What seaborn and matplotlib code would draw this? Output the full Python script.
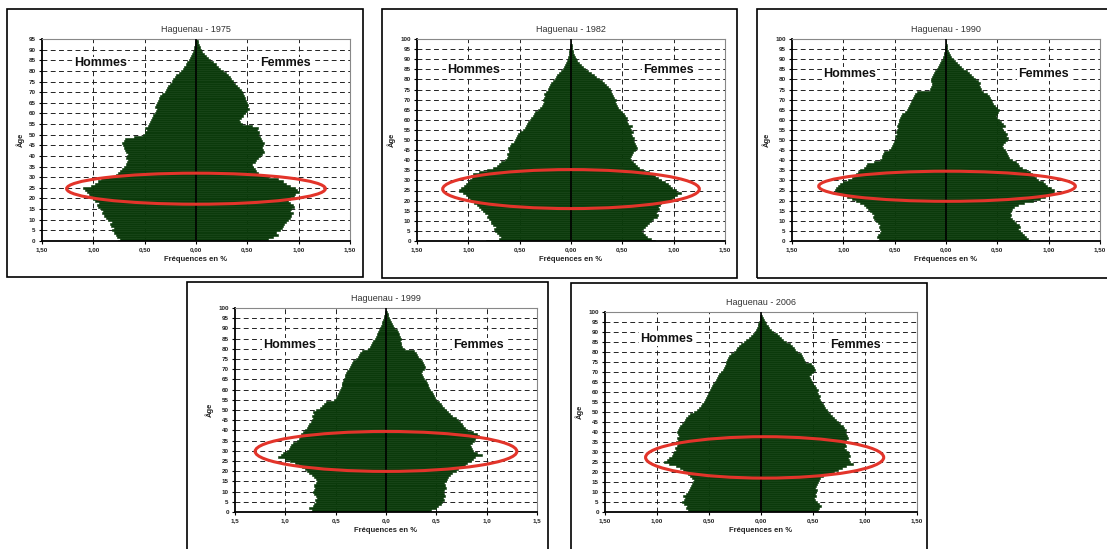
import numpy as np
import pandas as pd
import matplotlib
matplotlib.use("Agg")
import matplotlib.pyplot as plt
import seaborn as sns
from matplotlib.patches import Ellipse, Rectangle

# ---------------- data (percent of population by single year of age) ----------------
titles = ["Haguenau - 1975", "Haguenau - 1982", "Haguenau - 1990", "Haguenau - 1999", "Haguenau - 2006"]
label_h = "Hommes"
label_f = "Femmes"
xlabel = "Fréquences en %"
ylabel = "Âge"

hommes_1975 = [0.76, 0.74, 0.77, 0.78, 0.80, 0.82, 0.80, 0.83, 0.84, 0.82,
               0.86, 0.88, 0.90, 0.92, 0.91, 0.93, 0.95, 0.96, 0.94, 0.98,
               1.00, 1.03, 1.04, 1.06, 1.08, 1.10, 1.02, 0.98, 0.95, 0.93,
               0.85, 0.78, 0.76, 0.74, 0.72, 0.70, 0.68, 0.67, 0.66, 0.68,
               0.67, 0.66, 0.68, 0.69, 0.70, 0.71, 0.72, 0.70, 0.69, 0.60,
               0.52, 0.50, 0.48, 0.50, 0.47, 0.46, 0.45, 0.44, 0.43, 0.42,
               0.40, 0.39, 0.38, 0.40, 0.39, 0.38, 0.37, 0.36, 0.35, 0.33,
               0.30, 0.29, 0.28, 0.27, 0.25, 0.23, 0.22, 0.20, 0.19, 0.17,
               0.15, 0.13, 0.12, 0.10, 0.09, 0.07, 0.06, 0.05, 0.04, 0.03,
               0.02, 0.02, 0.01, 0.01, 0.01, 0.00]
femmes_1975 = [0.62, 0.70, 0.75, 0.80, 0.78, 0.82, 0.84, 0.85, 0.86, 0.88,
               0.90, 0.92, 0.93, 0.94, 0.92, 0.93, 0.95, 0.94, 0.92, 0.90,
               0.92, 0.95, 0.96, 1.00, 0.98, 0.96, 0.92, 0.88, 0.85, 0.80,
               0.70, 0.64, 0.60, 0.58, 0.57, 0.56, 0.55, 0.57, 0.58, 0.60,
               0.62, 0.64, 0.66, 0.65, 0.64, 0.65, 0.66, 0.64, 0.63, 0.62,
               0.60, 0.61, 0.59, 0.60, 0.55, 0.45, 0.43, 0.42, 0.44, 0.46,
               0.48, 0.50, 0.52, 0.50, 0.51, 0.50, 0.49, 0.48, 0.47, 0.46,
               0.45, 0.44, 0.42, 0.40, 0.38, 0.36, 0.34, 0.33, 0.31, 0.29,
               0.26, 0.23, 0.21, 0.19, 0.17, 0.14, 0.12, 0.10, 0.08, 0.06,
               0.05, 0.04, 0.03, 0.02, 0.02, 0.01]

hommes_1982 = [0.83, 0.70, 0.68, 0.70, 0.72, 0.74, 0.75, 0.73, 0.76, 0.78,
               0.78, 0.80, 0.82, 0.81, 0.84, 0.86, 0.88, 0.90, 0.92, 0.94,
               0.96, 0.98, 1.00, 1.02, 1.05, 1.09, 1.07, 1.04, 1.02, 1.00,
               0.98, 0.96, 0.97, 0.95, 0.90, 0.82, 0.76, 0.72, 0.70, 0.68,
               0.64, 0.62, 0.61, 0.62, 0.60, 0.60, 0.61, 0.59, 0.58, 0.56,
               0.55, 0.54, 0.53, 0.52, 0.50, 0.47, 0.45, 0.44, 0.43, 0.42,
               0.40, 0.39, 0.37, 0.36, 0.35, 0.32, 0.30, 0.28, 0.27, 0.26,
               0.27, 0.26, 0.25, 0.26, 0.24, 0.22, 0.21, 0.20, 0.19, 0.18,
               0.16, 0.15, 0.14, 0.12, 0.10, 0.08, 0.07, 0.06, 0.05, 0.04,
               0.03, 0.03, 0.02, 0.02, 0.02, 0.01, 0.01, 0.01, 0.00, 0.00]
femmes_1982 = [0.82, 0.78, 0.74, 0.72, 0.70, 0.68, 0.70, 0.72, 0.74, 0.76,
               0.78, 0.80, 0.84, 0.85, 0.83, 0.84, 0.86, 0.85, 0.87, 0.88,
               0.95, 0.98, 1.00, 1.03, 1.07, 1.02, 0.98, 0.96, 0.94, 0.92,
               0.88, 0.85, 0.82, 0.80, 0.76, 0.70, 0.66, 0.64, 0.62, 0.60,
               0.58, 0.57, 0.58, 0.59, 0.60, 0.62, 0.64, 0.63, 0.62, 0.61,
               0.60, 0.61, 0.59, 0.58, 0.60, 0.58, 0.57, 0.59, 0.56, 0.55,
               0.54, 0.55, 0.53, 0.52, 0.50, 0.48, 0.46, 0.45, 0.44, 0.43,
               0.44, 0.42, 0.41, 0.40, 0.39, 0.38, 0.36, 0.34, 0.32, 0.30,
               0.27, 0.24, 0.22, 0.19, 0.17, 0.14, 0.12, 0.10, 0.08, 0.06,
               0.05, 0.04, 0.03, 0.02, 0.02, 0.01, 0.01, 0.01, 0.00, 0.00]

hommes_1990 = [0.66, 0.65, 0.67, 0.66, 0.64, 0.63, 0.64, 0.65, 0.64, 0.66,
               0.68, 0.70, 0.71, 0.70, 0.72, 0.74, 0.76, 0.78, 0.80, 0.84,
               0.88, 0.92, 0.96, 1.00, 1.06, 1.08, 1.07, 1.05, 1.03, 1.00,
               0.95, 0.92, 0.90, 0.88, 0.86, 0.84, 0.80, 0.78, 0.77, 0.70,
               0.64, 0.62, 0.62, 0.61, 0.60, 0.56, 0.54, 0.53, 0.52, 0.51,
               0.50, 0.49, 0.50, 0.48, 0.49, 0.48, 0.47, 0.48, 0.47, 0.46,
               0.46, 0.45, 0.44, 0.43, 0.40, 0.38, 0.37, 0.36, 0.35, 0.34,
               0.33, 0.32, 0.31, 0.30, 0.28, 0.16, 0.15, 0.14, 0.14, 0.15,
               0.15, 0.14, 0.13, 0.12, 0.11, 0.09, 0.08, 0.07, 0.06, 0.05,
               0.03, 0.03, 0.02, 0.02, 0.01, 0.01, 0.01, 0.00, 0.00, 0.00]
femmes_1990 = [0.82, 0.80, 0.78, 0.76, 0.74, 0.72, 0.70, 0.72, 0.71, 0.68,
               0.66, 0.64, 0.62, 0.63, 0.62, 0.63, 0.64, 0.66, 0.70, 0.76,
               0.85, 0.92, 0.96, 1.00, 1.04, 1.05, 1.02, 0.98, 0.96, 0.94,
               0.90, 0.88, 0.86, 0.84, 0.82, 0.78, 0.74, 0.71, 0.70, 0.68,
               0.64, 0.61, 0.60, 0.59, 0.58, 0.57, 0.56, 0.55, 0.56, 0.57,
               0.59, 0.60, 0.58, 0.59, 0.57, 0.56, 0.55, 0.57, 0.56, 0.54,
               0.52, 0.50, 0.49, 0.50, 0.51, 0.52, 0.50, 0.48, 0.46, 0.45,
               0.44, 0.43, 0.42, 0.40, 0.36, 0.34, 0.33, 0.32, 0.33, 0.31,
               0.28, 0.26, 0.24, 0.22, 0.20, 0.17, 0.15, 0.13, 0.11, 0.09,
               0.07, 0.05, 0.04, 0.03, 0.02, 0.01, 0.01, 0.01, 0.00, 0.00]

hommes_1999 = [0.75, 0.74, 0.76, 0.73, 0.72, 0.70, 0.71, 0.69, 0.70, 0.72,
               0.73, 0.72, 0.71, 0.72, 0.70, 0.69, 0.70, 0.72, 0.74, 0.76,
               0.78, 0.80, 0.83, 0.86, 0.90, 0.95, 1.00, 1.07, 1.04, 1.02,
               0.98, 0.96, 0.95, 0.94, 0.92, 0.88, 0.86, 0.85, 0.84, 0.82,
               0.80, 0.78, 0.77, 0.76, 0.75, 0.74, 0.73, 0.74, 0.72, 0.73,
               0.70, 0.66, 0.64, 0.62, 0.60, 0.52, 0.50, 0.49, 0.48, 0.47,
               0.46, 0.45, 0.44, 0.44, 0.43, 0.42, 0.41, 0.41, 0.40, 0.39,
               0.37, 0.36, 0.35, 0.34, 0.33, 0.30, 0.28, 0.27, 0.26, 0.24,
               0.18, 0.16, 0.15, 0.14, 0.13, 0.11, 0.10, 0.09, 0.08, 0.07,
               0.06, 0.05, 0.04, 0.04, 0.03, 0.02, 0.02, 0.01, 0.01, 0.00]
femmes_1999 = [0.42, 0.45, 0.50, 0.52, 0.55, 0.56, 0.58, 0.57, 0.59, 0.58,
               0.57, 0.58, 0.60, 0.59, 0.58, 0.60, 0.61, 0.62, 0.64, 0.66,
               0.70, 0.72, 0.75, 0.78, 0.80, 0.84, 0.86, 0.88, 0.95, 0.90,
               0.86, 0.85, 0.84, 0.83, 0.85, 0.87, 0.88, 0.92, 0.90, 0.86,
               0.80, 0.78, 0.76, 0.75, 0.74, 0.72, 0.70, 0.66, 0.64, 0.62,
               0.60, 0.58, 0.56, 0.55, 0.53, 0.50, 0.49, 0.48, 0.47, 0.46,
               0.44, 0.43, 0.42, 0.41, 0.40, 0.38, 0.37, 0.36, 0.35, 0.36,
               0.38, 0.39, 0.38, 0.37, 0.36, 0.34, 0.32, 0.31, 0.30, 0.28,
               0.18, 0.16, 0.15, 0.15, 0.14, 0.15, 0.14, 0.13, 0.12, 0.11,
               0.08, 0.07, 0.06, 0.05, 0.04, 0.03, 0.02, 0.02, 0.01, 0.00]

hommes_2006 = [0.68, 0.70, 0.72, 0.71, 0.74, 0.76, 0.74, 0.73, 0.75, 0.72,
               0.70, 0.69, 0.68, 0.67, 0.66, 0.65, 0.64, 0.66, 0.68, 0.70,
               0.72, 0.75, 0.78, 0.82, 0.88, 0.93, 0.90, 0.88, 0.86, 0.85,
               0.84, 0.82, 0.83, 0.81, 0.80, 0.82, 0.80, 0.81, 0.79, 0.80,
               0.81, 0.80, 0.79, 0.78, 0.76, 0.74, 0.73, 0.72, 0.70, 0.68,
               0.64, 0.62, 0.60, 0.58, 0.57, 0.55, 0.54, 0.53, 0.52, 0.51,
               0.50, 0.49, 0.48, 0.47, 0.46, 0.44, 0.43, 0.42, 0.41, 0.40,
               0.38, 0.37, 0.36, 0.35, 0.34, 0.34, 0.33, 0.32, 0.31, 0.29,
               0.26, 0.24, 0.23, 0.21, 0.19, 0.16, 0.14, 0.12, 0.10, 0.08,
               0.06, 0.05, 0.04, 0.03, 0.03, 0.02, 0.01, 0.01, 0.01, 0.00]
femmes_2006 = [0.52, 0.55, 0.56, 0.58, 0.56, 0.54, 0.52, 0.51, 0.53, 0.52,
               0.53, 0.54, 0.52, 0.53, 0.54, 0.55, 0.56, 0.57, 0.60, 0.64,
               0.70, 0.74, 0.78, 0.82, 0.88, 0.86, 0.85, 0.84, 0.86, 0.85,
               0.84, 0.82, 0.80, 0.82, 0.81, 0.80, 0.82, 0.84, 0.83, 0.82,
               0.81, 0.82, 0.80, 0.79, 0.76, 0.74, 0.72, 0.70, 0.68, 0.66,
               0.64, 0.63, 0.62, 0.61, 0.60, 0.58, 0.57, 0.56, 0.57, 0.55,
               0.54, 0.55, 0.53, 0.52, 0.50, 0.49, 0.48, 0.47, 0.46, 0.48,
               0.50, 0.52, 0.51, 0.50, 0.48, 0.42, 0.41, 0.40, 0.39, 0.38,
               0.35, 0.33, 0.32, 0.30, 0.28, 0.24, 0.21, 0.19, 0.17, 0.15,
               0.12, 0.10, 0.08, 0.07, 0.05, 0.04, 0.03, 0.02, 0.01, 0.00]

x_ticks = [-1.5, -1.0, -0.5, 0.0, 0.5, 1.0, 1.5]

# ---------------- styling ----------------
sns.set_theme(style="white")
plt.rcParams['font.family'] = ['Liberation Sans', 'DejaVu Sans']

GREEN = "#0b3a0b"
RED = "#e3342a"
W, H = 1107, 549

fig = plt.figure(figsize=(W / 100, H / 100), dpi=100)
fig.patch.set_facecolor("white")


def fig_rect(l, t, r, b):
    return [l / W, 1 - b / H, (r - l) / W, (b - t) / H]


panels = [
    dict(title=titles[0], men=hommes_1975, women=femmes_1975, top=95,
         axes=(42, 39, 350, 241), frame=(7, 9, 363, 277),
         ell=(0.0, 24.6, 2.52, 14.6), hom=(-0.93, 83.5), fem=(0.87, 83.5), dec=2),
    dict(title=titles[1], men=hommes_1982, women=femmes_1982, top=100,
         axes=(417, 39, 725, 241), frame=(382, 9, 737, 278),
         ell=(0.0, 25.7, 2.5, 19.3), hom=(-0.95, 84.5), fem=(0.95, 84.5), dec=2),
    dict(title=titles[2], men=hommes_1990, women=femmes_1990, top=100,
         axes=(792, 39, 1100, 241), frame=(757, 9, 1112, 278),
         ell=(0.01, 27.1, 2.5, 14.9), hom=(-0.94, 82.5), fem=(0.95, 82.5), dec=2),
    dict(title=titles[3], men=hommes_1999, women=femmes_1999, top=100,
         axes=(235, 308, 537, 512), frame=(187, 282, 548, 555),
         ell=(0.0, 29.7, 2.6, 19.6), hom=(-0.96, 82.0), fem=(0.92, 82.0), dec=1),
    dict(title=titles[4], men=hommes_2006, women=femmes_2006, top=100,
         axes=(605, 312, 917, 512), frame=(571, 283, 927, 555),
         ell=(0.035, 27.3, 2.29, 20.7), hom=(-0.91, 86.5), fem=(0.91, 83.5), dec=2),
]

for p in panels:
    ax = fig.add_axes(fig_rect(*p["axes"]))
    ax.set_facecolor("white")
    n_m = len(p["men"])
    n_f = len(p["women"])
    df_m = pd.DataFrame({"age": np.arange(n_m), "val": -np.array(p["men"])})
    df_f = pd.DataFrame({"age": np.arange(n_f), "val": np.array(p["women"])})

    # dashed grid behind the bars
    for yv in range(5, p["top"], 5):
        ax.axhline(yv, color="#222222", lw=0.7, ls=(0, (5, 3.5)), zorder=0)
    for xv in [-1.0, -0.5, 0.5, 1.0]:
        ax.axvline(xv, color="#222222", lw=0.7, ls=(0, (5, 3.5)), zorder=0)

    for d in (df_m, df_f):
        sns.barplot(data=d, x="val", y="age", orient="y", native_scale=True,
                    width=1.0, color=GREEN, saturation=1, errorbar=None,
                    linewidth=0.4, edgecolor=GREEN, ax=ax, zorder=2)

    ax.axvline(0, color="black", lw=1.2, zorder=3)

    ax.set_xlim(-1.5, 1.5)
    ax.set_ylim(0, p["top"])
    ax.set_xticks(x_ticks)
    ax.set_xticklabels([f"{abs(v):.{p['dec']}f}".replace(".", ",") for v in x_ticks],
                       fontsize=4.5, fontweight="bold", color="#222222")
    yt = list(range(0, p["top"] + 1, 5))
    ax.set_yticks(yt)
    ax.set_yticklabels([str(v) for v in yt], fontsize=4.5, fontweight="bold", color="#222222")
    ax.tick_params(axis="both", length=2.5, width=0.8, direction="out", pad=2,
                   left=True, bottom=True, color="black")

    for s in ("left", "bottom"):
        ax.spines[s].set_color("black")
        ax.spines[s].set_linewidth(1.3)
    for s in ("top", "right"):
        ax.spines[s].set_color("#888888")
        ax.spines[s].set_linewidth(0.8)

    ax.set_title(p["title"], fontsize=6.5, color="#333333", pad=5)
    ax.set_xlabel(xlabel, fontsize=5.5, fontweight="bold", labelpad=3, color="#222222")
    ax.set_ylabel(ylabel, fontsize=5.5, fontweight="bold", labelpad=3, color="#222222")

    cx, cy, ew, eh = p["ell"]
    ax.add_patch(Ellipse((cx, cy), ew, eh, fill=False, ec=RED, lw=2.2, zorder=5))

    ax.text(p["hom"][0], p["hom"][1], label_h, ha="center", va="center", fontsize=9,
            fontweight="bold", color="#111111", zorder=4,
            bbox=dict(fc="white", ec="none", pad=0.6))
    ax.text(p["fem"][0], p["fem"][1], label_f, ha="center", va="center", fontsize=9,
            fontweight="bold", color="#111111", zorder=4,
            bbox=dict(fc="white", ec="none", pad=0.6))

    l, t, r, b = p["frame"]
    fig.add_artist(Rectangle((l / W, 1 - b / H), (r - l) / W, (b - t) / H,
                             transform=fig.transFigure, fill=False,
                             ec="black", lw=1.2, zorder=10))

fig.savefig("out.png", dpi=100, facecolor="white")
